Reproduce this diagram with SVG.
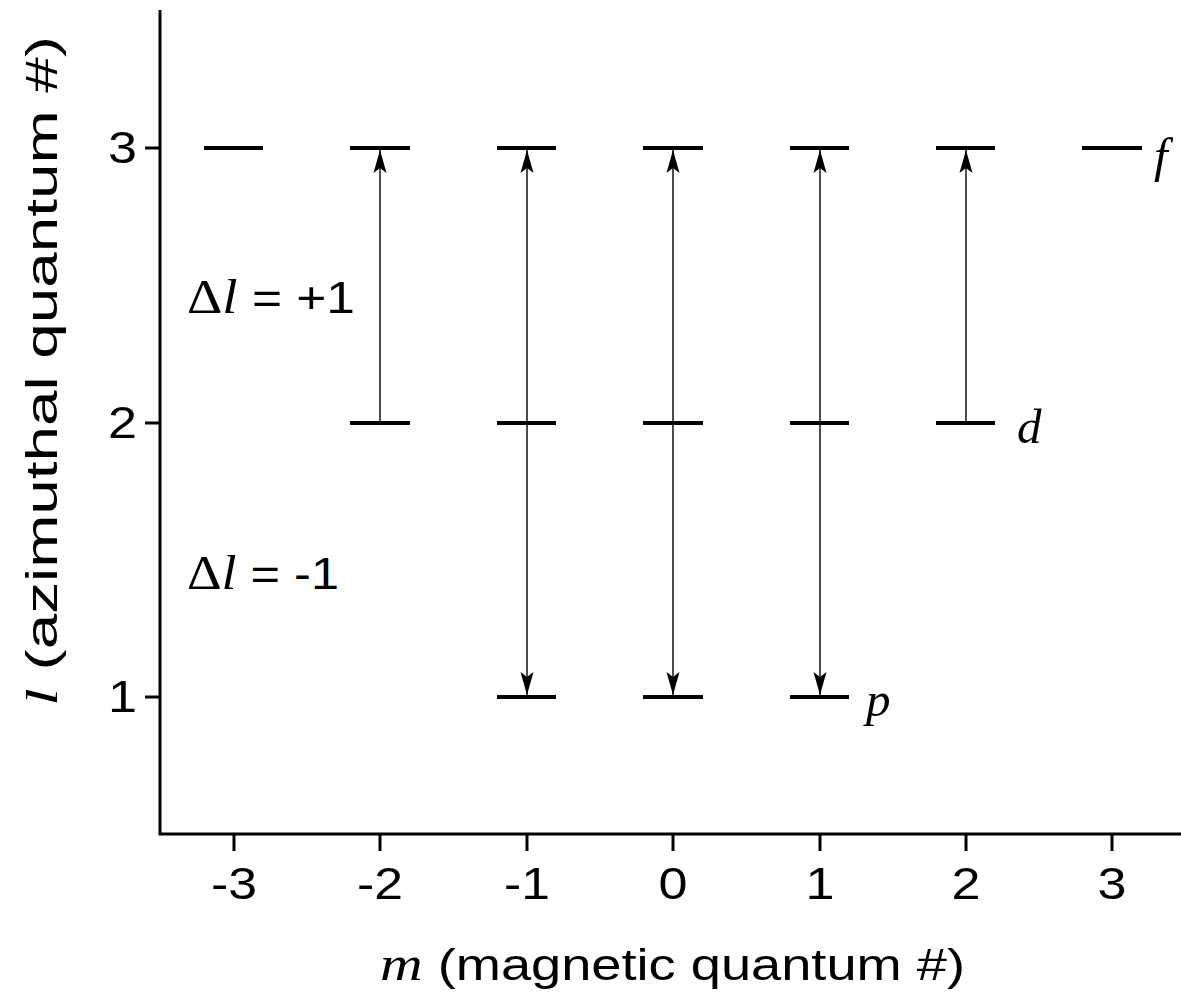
<svg xmlns="http://www.w3.org/2000/svg" width="1181" height="994" viewBox="0 0 1181 994">
<style>
.ax{stroke:#000;stroke-width:3;fill:none}
.lvl{stroke:#000;stroke-width:4}
.arr{stroke:#000;stroke-width:1.4}
.sans{font-family:"Liberation Sans",Arial,sans-serif;font-size:45px;fill:#000}
.ser{font-family:"Liberation Serif","Times New Roman",serif;fill:#000}
.lab{font-family:"Liberation Serif","Times New Roman",serif;font-size:49px;font-style:italic;fill:#000}
.it{font-style:italic}
</style>
<defs>
<marker id="ah" markerWidth="26" markerHeight="14" refX="23" refY="7" orient="auto" markerUnits="userSpaceOnUse">
<path d="M23,7 L0,0.5 L5,7 L0,13.5 Z" fill="#000"/>
</marker>
</defs>
<rect width="1181" height="994" fill="#fff"/>
<g id="axes">
<path class="ax" d="M160,10 V834 H1181"/>
<path class="ax" d="M145,148 H160 M145,423 H160 M145,697 H160"/>
<path class="ax" d="M234,834 V851 M380,834 V851 M527,834 V851 M673,834 V851 M820,834 V851 M966,834 V851 M1112,834 V851"/>
<g class="sans" text-anchor="end">
<text x="137" y="163" textLength="29" lengthAdjust="spacingAndGlyphs">3</text>
<text x="137" y="438" textLength="29" lengthAdjust="spacingAndGlyphs">2</text>
<text x="137" y="712" textLength="29" lengthAdjust="spacingAndGlyphs">1</text>
</g>
<g class="sans" text-anchor="middle">
<text x="234" y="899" textLength="46" lengthAdjust="spacingAndGlyphs">-3</text>
<text x="380" y="899" textLength="46" lengthAdjust="spacingAndGlyphs">-2</text>
<text x="527" y="899" textLength="46" lengthAdjust="spacingAndGlyphs">-1</text>
<text x="673" y="899" textLength="29" lengthAdjust="spacingAndGlyphs">0</text>
<text x="820" y="899" textLength="29" lengthAdjust="spacingAndGlyphs">1</text>
<text x="966" y="899" textLength="29" lengthAdjust="spacingAndGlyphs">2</text>
<text x="1112" y="899" textLength="29" lengthAdjust="spacingAndGlyphs">3</text>
</g>
<text x="380" y="980" class="sans" textLength="585" lengthAdjust="spacingAndGlyphs"><tspan class="ser it" font-size="49">m</tspan> (magnetic quantum #)</text>
<text transform="translate(57,706) rotate(-90)" class="sans" font-size="52" textLength="670" lengthAdjust="spacingAndGlyphs"><tspan class="ser it">l</tspan> (azimuthal quantum #)</text>
</g>
<g id="levels">
<path class="lvl" d="M204,148 H263 M350,148 H410 M497,148 H556 M643,148 H703 M790,148 H849 M936,148 H995 M1082,148 H1142"/>
<path class="lvl" d="M350,423 H410 M497,423 H556 M643,423 H703 M790,423 H849 M936,423 H995"/>
<path class="lvl" d="M497,697 H556 M643,697 H703 M790,697 H849"/>
</g>
<g id="connectors">
<line class="arr" x1="380" y1="421" x2="380" y2="150" marker-end="url(#ah)"/>
<line class="arr" x1="527" y1="421" x2="527" y2="150" marker-end="url(#ah)"/>
<line class="arr" x1="673" y1="421" x2="673" y2="150" marker-end="url(#ah)"/>
<line class="arr" x1="820" y1="421" x2="820" y2="150" marker-end="url(#ah)"/>
<line class="arr" x1="966" y1="421" x2="966" y2="150" marker-end="url(#ah)"/>
<line class="arr" x1="527" y1="425" x2="527" y2="695" marker-end="url(#ah)"/>
<line class="arr" x1="673" y1="425" x2="673" y2="695" marker-end="url(#ah)"/>
<line class="arr" x1="820" y1="425" x2="820" y2="695" marker-end="url(#ah)"/>
</g>
<g id="labels">
<text x="187" y="313" class="sans" textLength="168" lengthAdjust="spacingAndGlyphs"><tspan class="ser" font-size="48">Δ</tspan><tspan class="ser it" font-size="48">l</tspan> = +1</text>
<text x="187" y="589" class="sans" textLength="152" lengthAdjust="spacingAndGlyphs"><tspan class="ser" font-size="48">Δ</tspan><tspan class="ser it" font-size="48">l</tspan> = -1</text>
<text x="1154" y="172" class="lab">f</text>
<text x="1017" y="443" class="lab">d</text>
<text x="866" y="716" class="lab">p</text>
</g>
</svg>
